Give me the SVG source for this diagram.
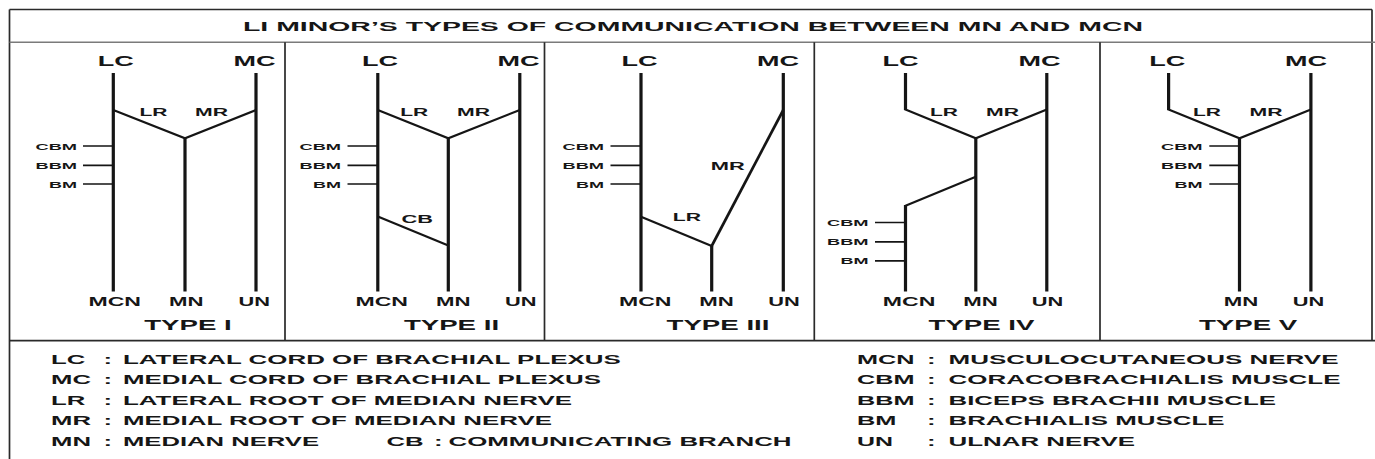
<svg xmlns="http://www.w3.org/2000/svg" width="1375" height="459" viewBox="0 0 1375 459">
<style>
.ln{stroke:#151515;fill:none;stroke-linecap:butt}
.v{stroke-width:3.2}
.d{stroke-width:2.2}
.dm{stroke-width:2.7}
.tk{stroke-width:1.7}
.fr{stroke:#2a2a2a;stroke-width:1.7;fill:none}
.sep{stroke:#7a7a7a;stroke-width:1.6;fill:none}
text{font-family:"Liberation Sans",Arial,sans-serif;font-weight:bold;fill:#161616}
.f14{font-size:14px}.f11{font-size:11px}.f9{font-size:9.5px}.f13{font-size:13px}.ft{font-size:14.5px}.fl{font-size:12px}
</style>
<rect x="0" y="0" width="1375" height="459" fill="#ffffff"/>
<g id="frame">
<path class="fr" d="M9.5 9.5 H1372 M9.5 9.5 V459 M1372 9.5 V341"/>
<path class="sep" d="M9.5 42.3 H1375"/>
<path class="fr" d="M9.5 340.7 H1375"/>
<path class="fr" d="M285 42.3 V340.7 M544.5 42.3 V340.7 M814.3 42.3 V340.7 M1100 42.3 V340.7"/>
</g>
<g id="title">
<text class="f13" x="243" y="31" textLength="900" lengthAdjust="spacingAndGlyphs">LI MINOR’S TYPES OF COMMUNICATION BETWEEN MN AND MCN</text>
</g>
<g id="type-i">
<g class="connectors">
<path class="ln v" d="M113.3 73 V291.5 M256 73 V291.5 M185 138.3 V291.5"/>
<path class="ln d" d="M113.3 110 L185 138.3 L256 110"/>
<path class="ln tk" d="M83 146 H113.3 M83 165.3 H113.3 M83 184 H113.3"/>
</g>
<text class="f14" x="97.8" y="65.5" textLength="36" lengthAdjust="spacingAndGlyphs">LC</text>
<text class="f14" x="233.5" y="65.5" textLength="42" lengthAdjust="spacingAndGlyphs">MC</text>
<text class="f11" x="139.5" y="115.5" textLength="28" lengthAdjust="spacingAndGlyphs">LR</text>
<text class="f11" x="195" y="115.5" textLength="33" lengthAdjust="spacingAndGlyphs">MR</text>
<text class="f9" x="35.5" y="149.5" textLength="41.5" lengthAdjust="spacingAndGlyphs">CBM</text>
<text class="f9" x="35.5" y="168.8" textLength="41.5" lengthAdjust="spacingAndGlyphs">BBM</text>
<text class="f9" x="49" y="187.5" textLength="28" lengthAdjust="spacingAndGlyphs">BM</text>
<text class="f13" x="88.5" y="306" textLength="52.5" lengthAdjust="spacingAndGlyphs">MCN</text>
<text class="f13" x="169" y="306" textLength="34.5" lengthAdjust="spacingAndGlyphs">MN</text>
<text class="f13" x="238.5" y="306" textLength="31.5" lengthAdjust="spacingAndGlyphs">UN</text>
<text class="ft" x="144.2" y="330" textLength="87.6" lengthAdjust="spacingAndGlyphs">TYPE I</text>
</g>
<g id="type-ii">
<g class="connectors">
<path class="ln v" d="M377.8 73 V291.5 M519.8 73 V291.5 M448.3 138.3 V291.5"/>
<path class="ln d" d="M377.8 110 L448.3 138.3 L519.8 110"/>
<path class="ln d" d="M377.8 216.5 L448.3 245.5"/>
<path class="ln tk" d="M347.5 146 H377.8 M347.5 165.3 H377.8 M347.5 184 H377.8"/>
</g>
<text class="f14" x="362" y="65.5" textLength="36" lengthAdjust="spacingAndGlyphs">LC</text>
<text class="f14" x="497.5" y="65.5" textLength="42" lengthAdjust="spacingAndGlyphs">MC</text>
<text class="f11" x="400.3" y="115.5" textLength="28" lengthAdjust="spacingAndGlyphs">LR</text>
<text class="f11" x="457" y="115.5" textLength="33" lengthAdjust="spacingAndGlyphs">MR</text>
<text class="f9" x="299.5" y="149.5" textLength="41.5" lengthAdjust="spacingAndGlyphs">CBM</text>
<text class="f9" x="299.5" y="168.8" textLength="41.5" lengthAdjust="spacingAndGlyphs">BBM</text>
<text class="f9" x="313" y="187.5" textLength="28" lengthAdjust="spacingAndGlyphs">BM</text>
<text class="f11" x="401.5" y="223" textLength="31.5" lengthAdjust="spacingAndGlyphs">CB</text>
<text class="f13" x="355.5" y="306" textLength="52.5" lengthAdjust="spacingAndGlyphs">MCN</text>
<text class="f13" x="436" y="306" textLength="34.5" lengthAdjust="spacingAndGlyphs">MN</text>
<text class="f13" x="505" y="306" textLength="31.5" lengthAdjust="spacingAndGlyphs">UN</text>
<text class="ft" x="403.9" y="330" textLength="95.2" lengthAdjust="spacingAndGlyphs">TYPE II</text>
</g>
<g id="type-iii">
<g class="connectors">
<path class="ln v" d="M641 73 V291.5 M783.3 73 V291.5 M711.7 246 V291.5"/>
<path class="ln d" d="M641 216.7 L711.7 246"/>
<path class="ln dm" d="M711.7 246 L783.3 110"/>
<path class="ln tk" d="M610.5 146 H641 M610.5 165.3 H641 M610.5 184 H641"/>
</g>
<text class="f14" x="621.6" y="65.5" textLength="36" lengthAdjust="spacingAndGlyphs">LC</text>
<text class="f14" x="757" y="65.5" textLength="42" lengthAdjust="spacingAndGlyphs">MC</text>
<text class="f11" x="710.7" y="170" textLength="34" lengthAdjust="spacingAndGlyphs">MR</text>
<text class="f11" x="672.7" y="221" textLength="28.3" lengthAdjust="spacingAndGlyphs">LR</text>
<text class="f9" x="562.5" y="149.5" textLength="41.5" lengthAdjust="spacingAndGlyphs">CBM</text>
<text class="f9" x="562.5" y="168.8" textLength="41.5" lengthAdjust="spacingAndGlyphs">BBM</text>
<text class="f9" x="576" y="187.5" textLength="28" lengthAdjust="spacingAndGlyphs">BM</text>
<text class="f13" x="619" y="306" textLength="52.5" lengthAdjust="spacingAndGlyphs">MCN</text>
<text class="f13" x="699.3" y="306" textLength="34.5" lengthAdjust="spacingAndGlyphs">MN</text>
<text class="f13" x="768.3" y="306" textLength="31.5" lengthAdjust="spacingAndGlyphs">UN</text>
<text class="ft" x="666.5" y="330" textLength="103" lengthAdjust="spacingAndGlyphs">TYPE III</text>
</g>
<g id="type-iv">
<g class="connectors">
<path class="ln v" d="M905.5 73 V110.2 M1046.8 73 V291.5 M975.8 138.3 V291.5 M905.5 205 V291.5"/>
<path class="ln d" d="M905.5 109.5 L975.8 138.3 L1046.8 109.5"/>
<path class="ln d" d="M975.8 176.7 L905.5 205.7"/>
<path class="ln tk" d="M875 222.5 H905.5 M875 241.8 H905.5 M875 260.8 H905.5"/>
</g>
<text class="f14" x="882.5" y="65.5" textLength="36" lengthAdjust="spacingAndGlyphs">LC</text>
<text class="f14" x="1018.5" y="65.5" textLength="42" lengthAdjust="spacingAndGlyphs">MC</text>
<text class="f11" x="930" y="115.5" textLength="28" lengthAdjust="spacingAndGlyphs">LR</text>
<text class="f11" x="986" y="115.5" textLength="33" lengthAdjust="spacingAndGlyphs">MR</text>
<text class="f9" x="827" y="226" textLength="41.5" lengthAdjust="spacingAndGlyphs">CBM</text>
<text class="f9" x="827" y="245.3" textLength="41.5" lengthAdjust="spacingAndGlyphs">BBM</text>
<text class="f9" x="840.5" y="264.3" textLength="28" lengthAdjust="spacingAndGlyphs">BM</text>
<text class="f13" x="882.8" y="306" textLength="52.5" lengthAdjust="spacingAndGlyphs">MCN</text>
<text class="f13" x="963.3" y="306" textLength="34.5" lengthAdjust="spacingAndGlyphs">MN</text>
<text class="f13" x="1031.8" y="306" textLength="31.5" lengthAdjust="spacingAndGlyphs">UN</text>
<text class="ft" x="928.5" y="330" textLength="106" lengthAdjust="spacingAndGlyphs">TYPE IV</text>
</g>
<g id="type-v">
<g class="connectors">
<path class="ln v" d="M1168.6 73 V110.2 M1310.9 73 V291.5 M1239.5 138.3 V291.5"/>
<path class="ln d" d="M1168.6 109.5 L1239.5 138.3 L1310.9 109.5"/>
<path class="ln tk" d="M1209.3 146 H1239.5 M1209.3 165.3 H1239.5 M1209.3 184 H1239.5"/>
</g>
<text class="f14" x="1149.3" y="65.5" textLength="36" lengthAdjust="spacingAndGlyphs">LC</text>
<text class="f14" x="1285" y="65.5" textLength="42" lengthAdjust="spacingAndGlyphs">MC</text>
<text class="f11" x="1193" y="115.5" textLength="28" lengthAdjust="spacingAndGlyphs">LR</text>
<text class="f11" x="1249.6" y="115.5" textLength="33" lengthAdjust="spacingAndGlyphs">MR</text>
<text class="f9" x="1161" y="149.5" textLength="41.5" lengthAdjust="spacingAndGlyphs">CBM</text>
<text class="f9" x="1161" y="168.8" textLength="41.5" lengthAdjust="spacingAndGlyphs">BBM</text>
<text class="f9" x="1174.5" y="187.5" textLength="28" lengthAdjust="spacingAndGlyphs">BM</text>
<text class="f13" x="1223.8" y="306" textLength="34.5" lengthAdjust="spacingAndGlyphs">MN</text>
<text class="f13" x="1292.7" y="306" textLength="31.5" lengthAdjust="spacingAndGlyphs">UN</text>
<text class="ft" x="1198.9" y="330" textLength="98.3" lengthAdjust="spacingAndGlyphs">TYPE V</text>
</g>
<g id="legend">
<text class="fl" x="51" y="363.5" textLength="34.3" lengthAdjust="spacingAndGlyphs">LC</text>
<text class="fl" x="103.5" y="363.5" textLength="8.6" lengthAdjust="spacingAndGlyphs">:</text>
<text class="fl" x="123" y="363.5" textLength="497.7" lengthAdjust="spacingAndGlyphs">LATERAL CORD OF BRACHIAL PLEXUS</text>
<text class="fl" x="51" y="384" textLength="40" lengthAdjust="spacingAndGlyphs">MC</text>
<text class="fl" x="103.5" y="384" textLength="8.6" lengthAdjust="spacingAndGlyphs">:</text>
<text class="fl" x="123" y="384" textLength="478" lengthAdjust="spacingAndGlyphs">MEDIAL CORD OF BRACHIAL PLEXUS</text>
<text class="fl" x="51" y="404.5" textLength="34.3" lengthAdjust="spacingAndGlyphs">LR</text>
<text class="fl" x="103.5" y="404.5" textLength="8.6" lengthAdjust="spacingAndGlyphs">:</text>
<text class="fl" x="123" y="404.5" textLength="449" lengthAdjust="spacingAndGlyphs">LATERAL ROOT OF MEDIAN NERVE</text>
<text class="fl" x="51" y="425" textLength="40" lengthAdjust="spacingAndGlyphs">MR</text>
<text class="fl" x="103.5" y="425" textLength="8.6" lengthAdjust="spacingAndGlyphs">:</text>
<text class="fl" x="123" y="425" textLength="429" lengthAdjust="spacingAndGlyphs">MEDIAL ROOT OF MEDIAN NERVE</text>
<text class="fl" x="51" y="445.5" textLength="40" lengthAdjust="spacingAndGlyphs">MN</text>
<text class="fl" x="103.5" y="445.5" textLength="8.6" lengthAdjust="spacingAndGlyphs">:</text>
<text class="fl" x="123" y="445.5" textLength="196" lengthAdjust="spacingAndGlyphs">MEDIAN NERVE</text>
<text class="fl" x="386.5" y="445.5" textLength="37.2" lengthAdjust="spacingAndGlyphs">CB</text>
<text class="fl" x="434" y="445.5" textLength="8.6" lengthAdjust="spacingAndGlyphs">:</text>
<text class="fl" x="448.5" y="445.5" textLength="343" lengthAdjust="spacingAndGlyphs">COMMUNICATING BRANCH</text>
<text class="fl" x="857" y="363.5" textLength="57.5" lengthAdjust="spacingAndGlyphs">MCN</text>
<text class="fl" x="927" y="363.5" textLength="8.6" lengthAdjust="spacingAndGlyphs">:</text>
<text class="fl" x="948.5" y="363.5" textLength="390" lengthAdjust="spacingAndGlyphs">MUSCULOCUTANEOUS NERVE</text>
<text class="fl" x="857" y="384" textLength="57.5" lengthAdjust="spacingAndGlyphs">CBM</text>
<text class="fl" x="927" y="384" textLength="8.6" lengthAdjust="spacingAndGlyphs">:</text>
<text class="fl" x="948.5" y="384" textLength="392" lengthAdjust="spacingAndGlyphs">CORACOBRACHIALIS MUSCLE</text>
<text class="fl" x="857" y="404.5" textLength="57.5" lengthAdjust="spacingAndGlyphs">BBM</text>
<text class="fl" x="927" y="404.5" textLength="8.6" lengthAdjust="spacingAndGlyphs">:</text>
<text class="fl" x="948.5" y="404.5" textLength="327.5" lengthAdjust="spacingAndGlyphs">BICEPS BRACHII MUSCLE</text>
<text class="fl" x="857" y="425" textLength="39.5" lengthAdjust="spacingAndGlyphs">BM</text>
<text class="fl" x="927" y="425" textLength="8.6" lengthAdjust="spacingAndGlyphs">:</text>
<text class="fl" x="948.5" y="425" textLength="276" lengthAdjust="spacingAndGlyphs">BRACHIALIS MUSCLE</text>
<text class="fl" x="857" y="445.5" textLength="36" lengthAdjust="spacingAndGlyphs">UN</text>
<text class="fl" x="927" y="445.5" textLength="8.6" lengthAdjust="spacingAndGlyphs">:</text>
<text class="fl" x="948.5" y="445.5" textLength="186.5" lengthAdjust="spacingAndGlyphs">ULNAR NERVE</text>
</g>
</svg>
